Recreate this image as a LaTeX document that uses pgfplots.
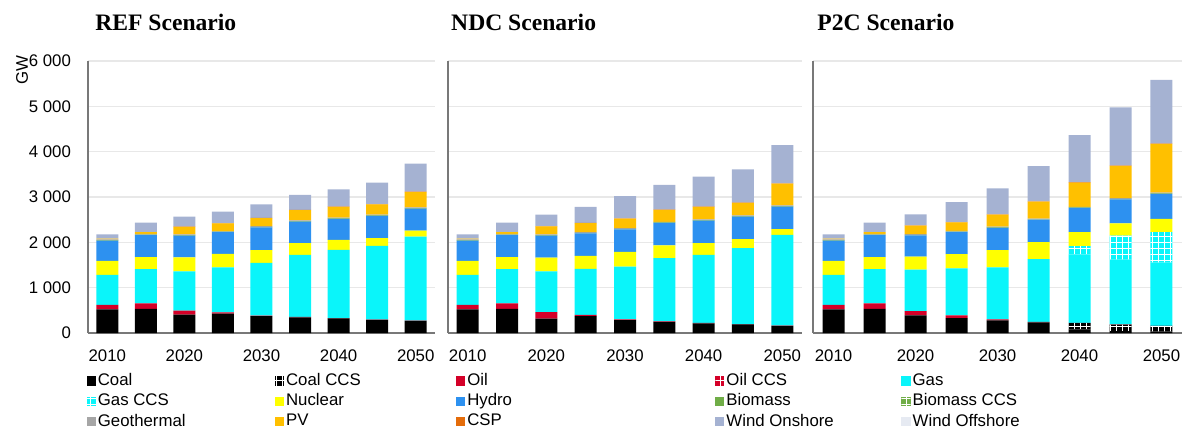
\documentclass[border=0pt]{standalone}
\usepackage{fontspec}
\setmainfont{Liberation Sans}
\newfontfamily\titlefont{Liberation Serif}
\usepackage{pgfplots}
\pgfplotsset{compat=1.18}
\usepackage{pgfplotstable}
\usetikzlibrary{patterns}

\definecolor{oilc}{RGB}{212,0,40}
\definecolor{gasc}{RGB}{10,245,250}
\definecolor{nucc}{RGB}{255,255,0}
\definecolor{hydc}{RGB}{45,145,240}
\definecolor{bioc}{RGB}{112,173,71}
\definecolor{geoc}{RGB}{166,166,166}
\definecolor{pvc}{RGB}{255,192,0}
\definecolor{cspc}{RGB}{228,108,10}
\definecolor{wonc}{RGB}{165,178,210}
\definecolor{woffc}{RGB}{230,234,242}
\definecolor{gridgray}{RGB}{232,232,232}
\definecolor{axgray}{RGB}{120,120,120}

\newcommand{\ticksize}{\fontsize{8.4}{10}\selectfont}

\pgfplotstableread{
x coal coalccs oil oilccs gas gasccs nuc hydro bio bioccs geo pv csp won woff
0 520 0 100 0 660 0 310 450 10 0 15 15 0 98 0
1 530 0 125 0 755 0 265 485 10 0 15 40 0 212 0
2 405 0 90 0 865 0 310 480 10 0 15 168 5 222 0
3 425 0 30 0 995 0 297 477 10 0 15 168 5 257 0
4 370 0 15 0 1163 0 282 500 10 0 15 178 5 298 0
5 345 0 10 0 1370 0 257 477 10 0 15 227 5 330 0
6 320 0 10 0 1505 0 220 463 10 0 15 241 5 382 0
7 288 0 6 0 1629 0 169 492 10 0 15 227 5 477 0
8 266 0 6 0 1856 0 132 485 10 0 15 340 10 615 0
}\refdata

\pgfplotstableread{
x coal coalccs oil oilccs gas gasccs nuc hydro bio bioccs geo pv csp won woff
0 520 0 100 0 660 0 310 450 10 0 15 15 0 98 0
1 530 0 125 0 755 0 265 485 10 0 15 40 0 212 0
2 315 0 145 0 900 0 305 485 10 0 15 175 5 255 0
3 375 0 25 0 1015 0 287 498 10 0 15 200 5 355 0
4 285 0 15 0 1167 0 323 498 10 0 15 212 5 492 0
5 245 0 10 0 1395 0 284 495 10 0 15 263 5 543 0
6 215 0 10 0 1500 0 257 499 10 0 15 278 5 661 0
7 190 0 8 0 1674 0 198 499 10 0 15 278 5 734 0
8 155 0 6 0 2004 0 125 499 10 0 15 479 10 844 0
}\ndcdata

\pgfplotstableread{
x coal coalccs oil oilccs gas gasccs nuc hydro bio bioccs geo pv csp won woff
0 520 0 100 0 660 0 310 450 10 0 15 15 0 98 0
1 530 0 125 0 755 0 265 485 10 0 15 40 0 212 0
2 390 0 90 0 920 0 285 470 10 0 15 190 5 240 0
3 330 0 59 0 1038 0 315 485 10 0 15 190 5 440 0
4 280 0 20 0 1145 0 385 489 10 0 15 267 5 572 0
5 235 0 10 0 1384 0 378 492 10 0 15 376 5 778 0
6 80 140 5 0 1510 180 310 535 10 0 15 535 10 1035 0
7 40 145 5 0 1430 530 268 532 10 0 15 710 10 1285 0
8 30 125 5 0 1390 675 295 550 10 0 15 1075 10 1405 0
}\ptcdata

\newcommand{\stackplots}[1]{%
  \addplot[fill=black, draw=none] table[x=x,y=coal]{#1};
  \addplot[fill=black, draw=none, postaction={pattern=grid, pattern color=white}] table[x=x,y=coalccs]{#1};
  \addplot[fill=oilc, draw=none] table[x=x,y=oil]{#1};
  \addplot[fill=oilc, draw=none, postaction={pattern=grid, pattern color=white}] table[x=x,y=oilccs]{#1};
  \addplot[fill=gasc, draw=none] table[x=x,y=gas]{#1};
  \addplot[fill=gasc, draw=none, postaction={pattern=grid, pattern color=white}] table[x=x,y=gasccs]{#1};
  \addplot[fill=nucc, draw=none] table[x=x,y=nuc]{#1};
  \addplot[fill=hydc, draw=none] table[x=x,y=hydro]{#1};
  \addplot[fill=bioc, draw=none] table[x=x,y=bio]{#1};
  \addplot[fill=bioc, draw=none, postaction={pattern=grid, pattern color=white}] table[x=x,y=bioccs]{#1};
  \addplot[fill=geoc, draw=none] table[x=x,y=geo]{#1};
  \addplot[fill=pvc, draw=none] table[x=x,y=pv]{#1};
  \addplot[fill=cspc, draw=none] table[x=x,y=csp]{#1};
  \addplot[fill=wonc, draw=none] table[x=x,y=won]{#1};
  \addplot[fill=woffc, draw=none] table[x=x,y=woff]{#1};
}

\pgfplotsset{
  panel/.style={
    scale only axis, height=136pt,
    ybar stacked, bar width=11pt,
    xmin=-0.5, xmax=8.5, ymin=0, ymax=6000,
    xtick={0,2,4,6,8}, xticklabels={2010,2020,2030,2040,2050},
    ytick={0,1000,...,6000},
    ymajorgrids, grid style={draw=gridgray, line width=0.6pt},
    axis x line*=bottom, axis y line*=left,
    axis line style={draw=axgray, line width=0.8pt, -},
    tick style={draw=none},
    tick label style={font=\ticksize},
    xticklabel style={yshift=-5pt},
    yticklabel style={xshift=-5pt},
    scaled y ticks=false,
    /pgf/number format/1000 sep={\ },
    /pgf/number format/assume math mode=true,
    clip=false,
    legend image code/.code={\path[##1] (0pt,-2.3pt) rectangle (4.6pt,2.3pt);},
  },
}

\newcommand{\ptitle}[1]{{\titlefont\bfseries\fontsize{11.8}{13}\selectfont #1}}

\begin{document}
\begin{tikzpicture}
\useasboundingbox (0,0) rectangle (593.5pt,217pt);

\begin{axis}[panel, width=173.5pt, at={(44pt,50.5pt)}, anchor=south west,
  legend columns=5,
  legend style={draw=none, fill=none, inner sep=0pt, font=\ticksize,
    at={(axis description cs:-0.005,-0.14)}, anchor=north west,
    nodes={inner sep=1pt}, row sep=0.5pt,
    /tikz/every even column/.append style={column sep=0pt}},
  ]
  \stackplots{\refdata}
  \legend{\makebox[87.5pt][l]{Coal},\makebox[84pt][l]{Coal CCS},\makebox[123pt][l]{Oil},\makebox[86.5pt][l]{Oil CCS},\makebox[84pt][l]{Gas},
          \makebox[87.5pt][l]{Gas CCS},\makebox[84pt][l]{Nuclear},\makebox[123pt][l]{Hydro},\makebox[86.5pt][l]{Biomass},\makebox[84pt][l]{Biomass CCS},
          \makebox[87.5pt][l]{Geothermal},\makebox[84pt][l]{PV},\makebox[123pt][l]{CSP},\makebox[86.5pt][l]{Wind Onshore},\makebox[84pt][l]{Wind Offshore}}
  \node[anchor=west, inner sep=0pt] at (axis description cs:0.02,1.143) {\ptitle{REF Scenario}};
  \node[rotate=90, inner sep=0pt, font=\ticksize] at (axis description cs:-0.19,0.965) {GW};
\end{axis}

\begin{axis}[panel, width=177pt, at={(224pt,50.5pt)}, anchor=south west, yticklabels={}]
  \stackplots{\ndcdata}
  \node[anchor=west, inner sep=0pt] at (axis description cs:0.008,1.143) {\ptitle{NDC Scenario}};
\end{axis}

\begin{axis}[panel, width=184.5pt, at={(406.5pt,50.5pt)}, anchor=south west, yticklabels={}]
  \stackplots{\ptcdata}
  \node[anchor=west, inner sep=0pt] at (axis description cs:0.011,1.143) {\ptitle{P2C Scenario}};
\end{axis}
\end{tikzpicture}
\end{document}
